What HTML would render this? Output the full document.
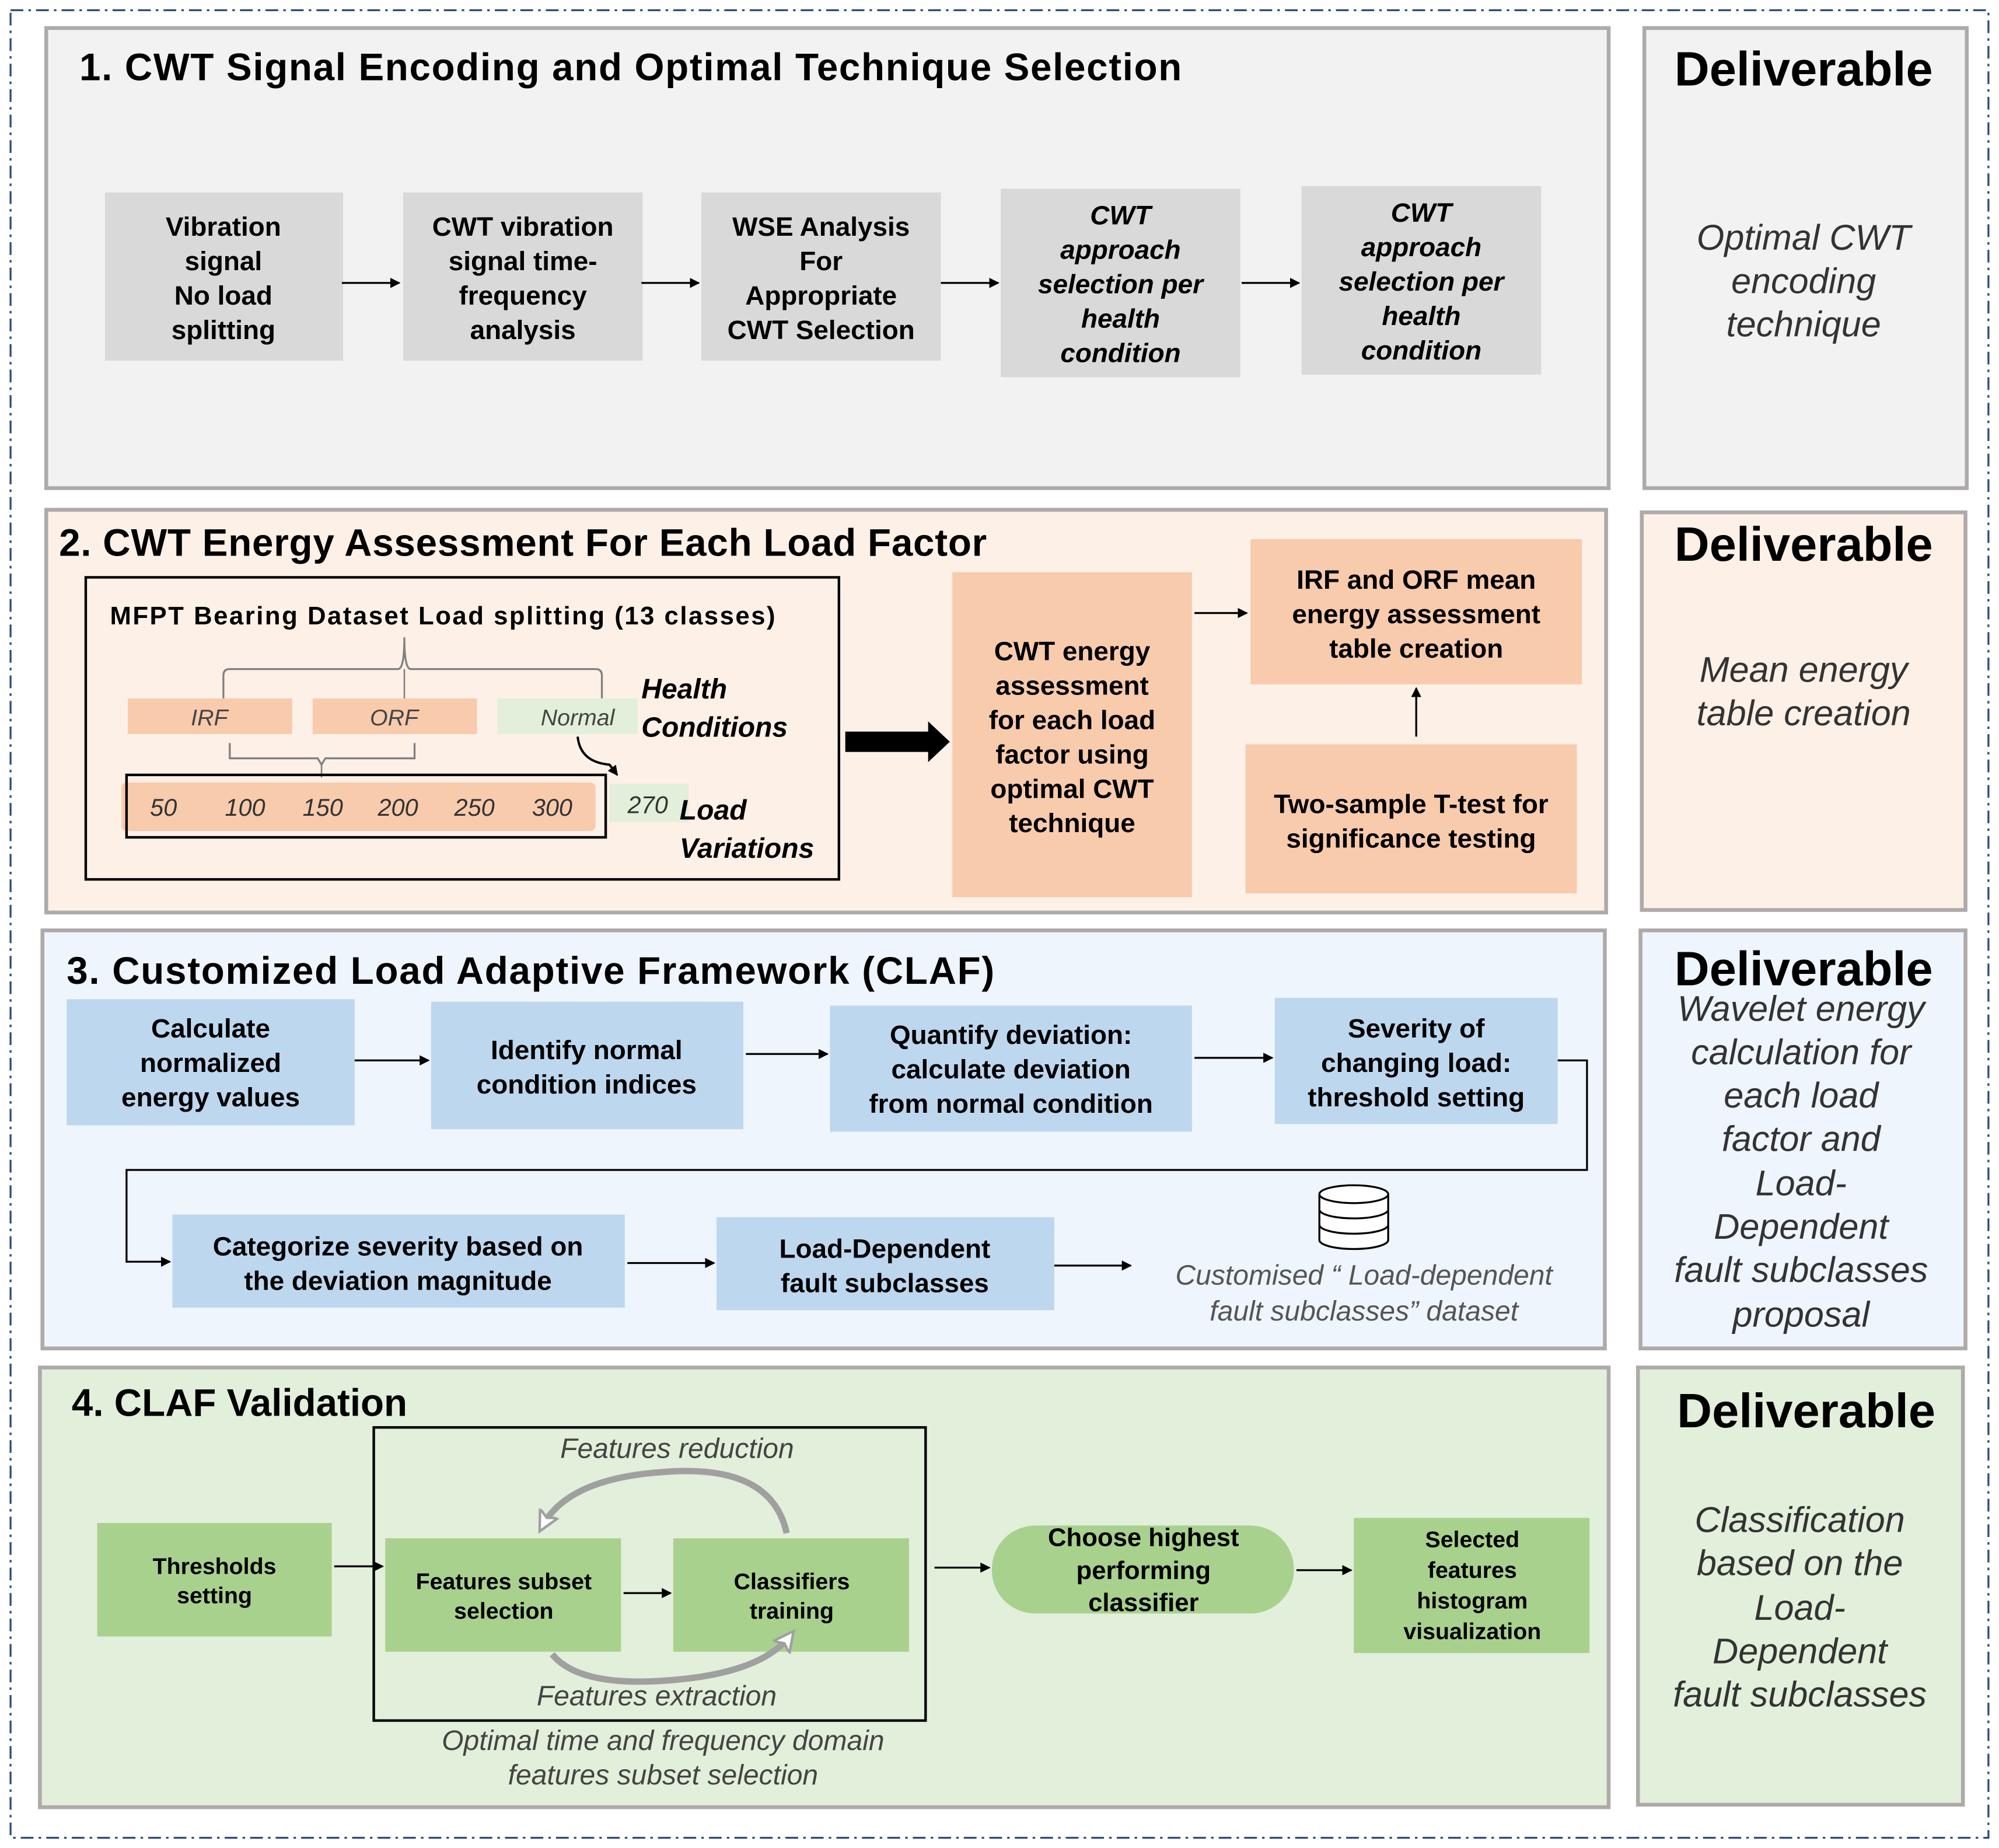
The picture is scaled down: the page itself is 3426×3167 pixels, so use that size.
<!DOCTYPE html>
<html><head><meta charset="utf-8"><style>html,body{margin:0;padding:0;background:#fff}svg{display:block}</style></head><body>
<svg xmlns="http://www.w3.org/2000/svg" width="3426" height="3167" viewBox="0 0 1568 1450" font-family="Liberation Sans, sans-serif">
<defs>
<marker id="a" markerWidth="8" markerHeight="8" refX="7" refY="4" orient="auto" markerUnits="userSpaceOnUse"><path d="M0,0 L8,4 L0,8 z" fill="#000"/></marker>
<marker id="g" markerWidth="22" markerHeight="22" refX="12" refY="11" orient="auto" markerUnits="userSpaceOnUse"><path d="M0,3 L16,11 L0,19 L4,11 z" fill="#fff" stroke="#a0a0a0" stroke-width="2"/></marker>
</defs>
<rect x="0" y="0" width="1568" height="1450" fill="#fff"/>
<rect x="8" y="8" width="1552" height="1434" fill="none" stroke="#2f4a7a" stroke-width="1.5" stroke-dasharray="10,4,2,4"/>

<!-- Section 1 -->
<rect x="36" y="22" width="1226" height="361" fill="#f2f2f2" stroke="#aeaaaa" stroke-width="3"/>
<rect x="1290" y="22" width="253" height="361" fill="#f2f2f2" stroke="#aeaaaa" stroke-width="3"/>
<text x="62" y="63" font-size="30" font-weight="bold" textLength="865">1. CWT Signal Encoding and Optimal Technique Selection</text>
<g fill="#d9d9d9">
<rect x="82" y="151" width="187" height="132"/><rect x="316" y="151" width="188" height="132"/><rect x="550" y="151" width="188" height="132"/><rect x="785" y="148" width="188" height="148"/><rect x="1021" y="146" width="188" height="148"/>
</g>
<g font-size="21" font-weight="bold" text-anchor="middle">
<text x="175" y="185">Vibration</text><text x="175" y="212">signal</text><text x="175" y="239">No load</text><text x="175" y="266">splitting</text>
<text x="410" y="185">CWT vibration</text><text x="410" y="212">signal time-</text><text x="410" y="239">frequency</text><text x="410" y="266">analysis</text>
<text x="644" y="185">WSE Analysis</text><text x="644" y="212">For</text><text x="644" y="239">Appropriate</text><text x="644" y="266">CWT Selection</text>
<g font-style="italic"><text x="879" y="176">CWT</text><text x="879" y="203">approach</text><text x="879" y="230">selection per</text><text x="879" y="257">health</text><text x="879" y="284">condition</text>
<text x="1115" y="174">CWT</text><text x="1115" y="201">approach</text><text x="1115" y="228">selection per</text><text x="1115" y="255">health</text><text x="1115" y="282">condition</text></g>
</g>
<g stroke="#000" stroke-width="1.5" marker-end="url(#a)">
<line x1="268" y1="222" x2="313" y2="222"/><line x1="503" y1="222" x2="548" y2="222"/><line x1="738" y1="222" x2="783" y2="222"/><line x1="974" y1="222" x2="1019" y2="222"/>
</g>
<text x="1415" y="67" font-size="38" font-weight="bold" text-anchor="middle">Deliverable</text>
<g font-size="28" font-style="italic" text-anchor="middle" fill="#333"><text x="1415" y="196">Optimal CWT</text><text x="1415" y="230">encoding</text><text x="1415" y="264">technique</text></g>

<!-- Section 2 -->
<rect x="36" y="400" width="1224" height="316" fill="#fdf0e7" stroke="#aeaaaa" stroke-width="3"/>
<rect x="1288" y="402" width="254" height="312" fill="#fdf0e7" stroke="#aeaaaa" stroke-width="3"/>
<text x="46" y="436" font-size="30" font-weight="bold" textLength="728">2. CWT Energy Assessment For Each Load Factor</text>
<rect x="67" y="453" width="591" height="237" fill="none" stroke="#000" stroke-width="2"/>
<text x="86" y="490" font-size="20" font-weight="bold" textLength="522">MFPT Bearing Dataset Load splitting  (13 classes)</text>
<path d="M175,548 L175,530 Q175,525 180,525 L312,525 Q317,525 317,500 Q317,525 322,525 L467,525 Q472,525 472,530 L472,548" fill="none" stroke="#808080" stroke-width="1.5"/>
<line x1="317" y1="525" x2="317" y2="548" stroke="#808080" stroke-width="1.2"/>
<rect x="100" y="548" width="129" height="28" fill="#f8cbad"/><rect x="245" y="548" width="129" height="28" fill="#f8cbad"/><rect x="390" y="548" width="110" height="28" fill="#e2efda"/>
<g font-size="18" font-style="italic" fill="#444" text-anchor="middle"><text x="164" y="569">IRF</text><text x="309" y="569">ORF</text><text x="453" y="569">Normal</text></g>
<path d="M180,583 L180,595 L249,595 L252,600 L255,595 L325,595 L325,583" fill="none" stroke="#808080" stroke-width="1.5"/>
<line x1="252" y1="600" x2="252" y2="610" stroke="#808080" stroke-width="1.2"/>
<rect x="95" y="614" width="372" height="38" rx="4" fill="#f8cbad"/>
<rect x="99" y="608" width="376" height="49" fill="none" stroke="#000" stroke-width="2"/>
<rect x="478" y="615" width="62" height="30" fill="#e2efda"/>
<g font-size="19" font-style="italic" fill="#333" text-anchor="middle"><text x="128" y="640">50</text><text x="192" y="640">100</text><text x="253" y="640">150</text><text x="312" y="640">200</text><text x="372" y="640">250</text><text x="433" y="640">300</text><text x="508" y="638">270</text></g>
<g font-size="22" font-weight="bold" font-style="italic"><text x="503" y="548">Health</text><text x="503" y="578">Conditions</text><text x="533" y="643">Load</text><text x="533" y="673">Variations</text></g>
<path d="M453,578 Q455,598 478,600 L484,608" fill="none" stroke="#000" stroke-width="1.8" marker-end="url(#a)"/>
<path d="M663,574 L728,574 L728,566 L745,582 L728,598 L728,590 L663,590 z" fill="#000"/>
<rect x="747" y="449" width="188" height="255" fill="#f8cbad"/>
<g font-size="21" font-weight="bold" text-anchor="middle"><text x="841" y="518">CWT energy</text><text x="841" y="545">assessment</text><text x="841" y="572">for each load</text><text x="841" y="599">factor using</text><text x="841" y="626">optimal CWT</text><text x="841" y="653">technique</text></g>
<rect x="981" y="423" width="260" height="114" fill="#f8cbad"/>
<rect x="977" y="584" width="260" height="117" fill="#f8cbad"/>
<g font-size="21" font-weight="bold" text-anchor="middle"><text x="1111" y="462">IRF and ORF mean</text><text x="1111" y="489">energy assessment</text><text x="1111" y="516">table creation</text><text x="1107" y="638">Two-sample T-test for</text><text x="1107" y="665">significance testing</text></g>
<line x1="937" y1="481" x2="978" y2="481" stroke="#000" stroke-width="1.5" marker-end="url(#a)"/>
<line x1="1111" y1="578" x2="1111" y2="540" stroke="#000" stroke-width="1.5" marker-end="url(#a)"/>
<text x="1415" y="440" font-size="38" font-weight="bold" text-anchor="middle">Deliverable</text>
<g font-size="28" font-style="italic" text-anchor="middle" fill="#333"><text x="1415" y="535">Mean energy</text><text x="1415" y="569">table creation</text></g>

<!-- Section 3 -->
<rect x="33" y="730" width="1226" height="328" fill="#eef5fc" stroke="#aeaaaa" stroke-width="3"/>
<rect x="1287" y="730" width="255" height="328" fill="#eef5fc" stroke="#aeaaaa" stroke-width="3"/>
<text x="52" y="772" font-size="30" font-weight="bold" textLength="728">3. Customized Load Adaptive Framework (CLAF)</text>
<g fill="#bdd7ee"><rect x="52" y="784" width="226" height="99"/><rect x="338" y="786" width="245" height="100"/><rect x="651" y="789" width="284" height="99"/><rect x="1000" y="783" width="222" height="99"/><rect x="135" y="953" width="355" height="73"/><rect x="562" y="955" width="265" height="73"/></g>
<g font-size="21" font-weight="bold" text-anchor="middle">
<text x="165" y="814">Calculate</text><text x="165" y="841">normalized</text><text x="165" y="868">energy values</text>
<text x="460" y="831">Identify normal</text><text x="460" y="858">condition indices</text>
<text x="793" y="819">Quantify deviation:</text><text x="793" y="846">calculate deviation</text><text x="793" y="873">from normal condition</text>
<text x="1111" y="814">Severity of</text><text x="1111" y="841">changing load:</text><text x="1111" y="868">threshold setting</text>
<text x="312" y="985">Categorize severity based on</text><text x="312" y="1012">the deviation magnitude</text>
<text x="694" y="987">Load-Dependent</text><text x="694" y="1014">fault subclasses</text>
</g>
<g stroke="#000" stroke-width="1.5" fill="none">
<line x1="278" y1="832" x2="336" y2="832" marker-end="url(#a)"/><line x1="585" y1="827" x2="649" y2="827" marker-end="url(#a)"/><line x1="937" y1="830" x2="998" y2="830" marker-end="url(#a)"/>
<path d="M1222,832 L1245,832 L1245,918 L99,918 L99,990 L133,990" marker-end="url(#a)"/>
<line x1="492" y1="991" x2="560" y2="991" marker-end="url(#a)"/><line x1="827" y1="993" x2="887" y2="993" marker-end="url(#a)"/>
</g>
<g fill="#fff" stroke="#000" stroke-width="1.5"><path d="M1035,937 L1035,973 A27,7 0 0 0 1089,973 L1089,937"/><ellipse cx="1062" cy="937" rx="27" ry="7"/><path d="M1035,949 A27,7 0 0 0 1089,949 M1035,961 A27,7 0 0 0 1089,961" fill="none"/></g>
<g font-size="22" font-style="italic" fill="#555" text-anchor="middle"><text x="1070" y="1008">Customised “ Load-dependent</text><text x="1070" y="1036">fault subclasses” dataset</text></g>
<text x="1415" y="773" font-size="38" font-weight="bold" text-anchor="middle">Deliverable</text>
<g font-size="28" font-style="italic" text-anchor="middle" fill="#333"><text x="1413" y="801">Wavelet energy</text><text x="1413" y="835">calculation for</text><text x="1413" y="869">each load</text><text x="1413" y="903">factor and</text><text x="1413" y="938">Load-</text><text x="1413" y="972">Dependent</text><text x="1413" y="1006">fault subclasses</text><text x="1413" y="1041">proposal</text></g>

<!-- Section 4 -->
<rect x="31" y="1073" width="1231" height="345" fill="#e2efda" stroke="#aeaaaa" stroke-width="3"/>
<rect x="1285" y="1073" width="255" height="343" fill="#e2efda" stroke="#aeaaaa" stroke-width="3"/>
<text x="56" y="1111" font-size="30" font-weight="bold">4. CLAF Validation</text>
<g fill="#a9d18e"><rect x="76" y="1195" width="184" height="89"/><rect x="302" y="1207" width="185" height="89"/><rect x="528" y="1207" width="185" height="89"/><rect x="778" y="1197" width="237" height="69" rx="34"/><rect x="1062" y="1191" width="185" height="106"/></g>
<rect x="293" y="1120" width="433" height="230" fill="none" stroke="#000" stroke-width="2"/>
<g font-size="18" font-weight="bold" text-anchor="middle">
<text x="168" y="1235">Thresholds</text><text x="168" y="1258">setting</text>
<text x="395" y="1247">Features subset</text><text x="395" y="1270">selection</text>
<text x="621" y="1247">Classifiers</text><text x="621" y="1270">training</text>
<text x="1155" y="1214">Selected</text><text x="1155" y="1238">features</text><text x="1155" y="1262">histogram</text><text x="1155" y="1286">visualization</text>
</g>
<g font-size="20" font-weight="bold" text-anchor="middle"><text x="897" y="1213">Choose highest</text><text x="897" y="1239">performing</text><text x="897" y="1264">classifier</text></g>
<g stroke="#000" stroke-width="1.5"><line x1="262" y1="1229" x2="300" y2="1229" marker-end="url(#a)"/><line x1="489" y1="1250" x2="526" y2="1250" marker-end="url(#a)"/><line x1="733" y1="1230" x2="776" y2="1230" marker-end="url(#a)"/><line x1="1017" y1="1232" x2="1060" y2="1232" marker-end="url(#a)"/></g>
<path d="M617,1203 Q605,1148 520,1155 Q445,1160 425,1198" fill="none" stroke="#a0a0a0" stroke-width="5" marker-end="url(#g)"/>
<path d="M433,1298 Q455,1325 530,1318 Q598,1312 620,1283" fill="none" stroke="#a0a0a0" stroke-width="5" marker-end="url(#g)"/>
<g font-size="22" font-style="italic" fill="#444" text-anchor="middle"><text x="531" y="1144">Features reduction</text><text x="515" y="1338">Features extraction</text><text x="520" y="1373">Optimal time and frequency domain</text><text x="520" y="1400">features subset selection</text></g>
<text x="1417" y="1120" font-size="38" font-weight="bold" text-anchor="middle">Deliverable</text>
<g font-size="28" font-style="italic" text-anchor="middle" fill="#333"><text x="1412" y="1202">Classification</text><text x="1412" y="1236">based on the</text><text x="1412" y="1271">Load-</text><text x="1412" y="1305">Dependent</text><text x="1412" y="1339">fault subclasses</text></g>
</svg>
</body></html>
